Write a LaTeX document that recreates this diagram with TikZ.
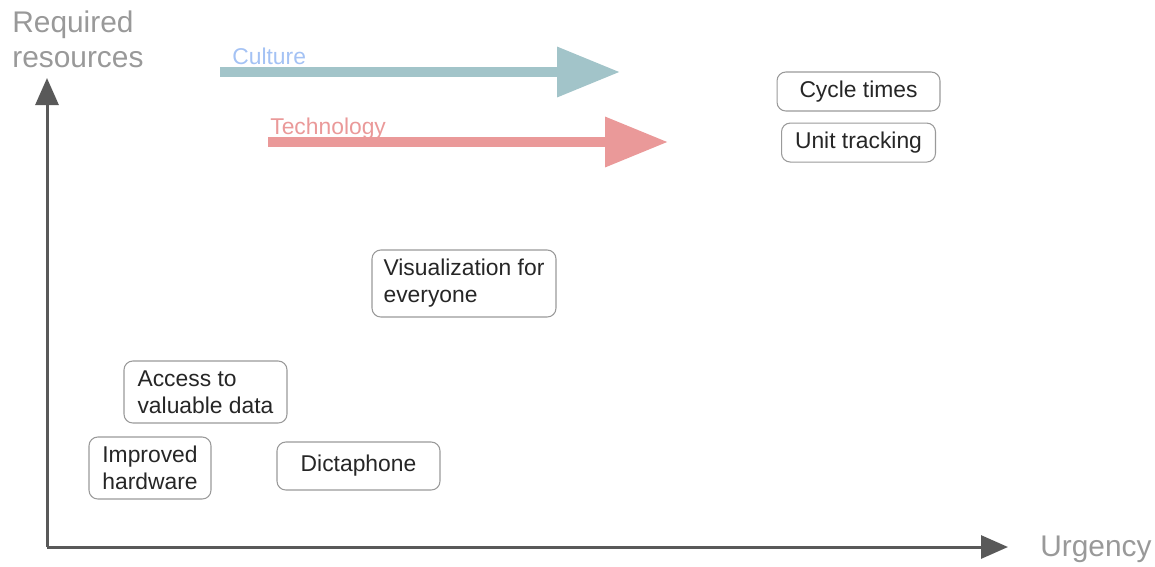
\documentclass[tikz,border=0pt]{standalone}
\usepackage{fontspec}
\setmainfont{Liberation Sans}
\usepackage{xcolor}
\usetikzlibrary{positioning, arrows.meta}
\definecolor{axisgray}{HTML}{595959}
\definecolor{labelgray}{HTML}{999999}
\definecolor{framegray}{HTML}{9A9A9A}
\definecolor{culture}{HTML}{A2C4C9}
\definecolor{culturetext}{HTML}{A4C2F4}
\definecolor{techred}{HTML}{EA9999}

\begin{document}
\begin{tikzpicture}[x=0.02cm, y=-0.02cm,
      every node/.style={font=\fontsize{13}{15.3}\selectfont, text=black!85},
      box/.style={draw=framegray, line width=0.6pt, rounded corners=5pt, fill=white, align=left, inner sep=2pt},
      axis/.style={draw=axisgray, line width=0.06cm, -{Triangle[length=0.54cm, width=0.46cm]}},
      trend/.style={line width=0.2cm, -{Triangle[length=1.26cm, width=0.96cm]}},
      axislabel/.style={text=labelgray, font=\fontsize{17}{20.4}\selectfont, align=left}]

    \useasboundingbox (0,0) rectangle (1155,566);

    % axes
    \coordinate (origin) at (47,547);
    \coordinate (ytop) at (47,78);
    \coordinate (xend) at (1008,547);
    \draw[axis] (origin) -- (ytop);
    \draw[axis] (origin) -- (xend);
    \node[axislabel, anchor=north west, inner sep=0pt] (ylabel) at (12,10) {Required\\resources};
    \node[axislabel, anchor=west, inner sep=0pt] (xlabel) at (1040,549) {Urgency};

    % trends
    \coordinate (cultstart) at (220,72);
    \coordinate (cultend) at (620,72);
    \coordinate (techstart) at (268,142);
    \coordinate (techend) at (668,142);
    \draw[trend, culture] (cultstart) -- (cultend);
    \draw[trend, techred] (techstart) -- (techend);
    \node[text=culturetext, anchor=base west, inner sep=0pt] (cultlabel) at (232,64) {Culture};
    \node[text=techred, anchor=base west, inner sep=0pt] (techlabel) at (270,134) {Technology};

    % items
    \node[box, minimum width=3.26cm, minimum height=0.78cm] (cycle) at (858.5,91.5) {Cycle times};
    \node[box, below=0.22cm of cycle, minimum width=3.08cm, minimum height=0.78cm] (unit) {Unit tracking};
    \node[box, minimum width=3.68cm, minimum height=1.34cm] (vis) at (464,283.5) {Visualization for\\everyone};
    \node[box, minimum width=3.26cm, minimum height=1.24cm] (access) at (205.5,392) {Access to\\valuable data};
    \node[box, minimum width=2.44cm, minimum height=1.24cm] (hardware) at (150,468) {Improved\\hardware};
    \node[box, minimum width=3.26cm, minimum height=0.96cm] (dicta) at (358.5,466) {Dictaphone};
  \end{tikzpicture}
\end{document}
